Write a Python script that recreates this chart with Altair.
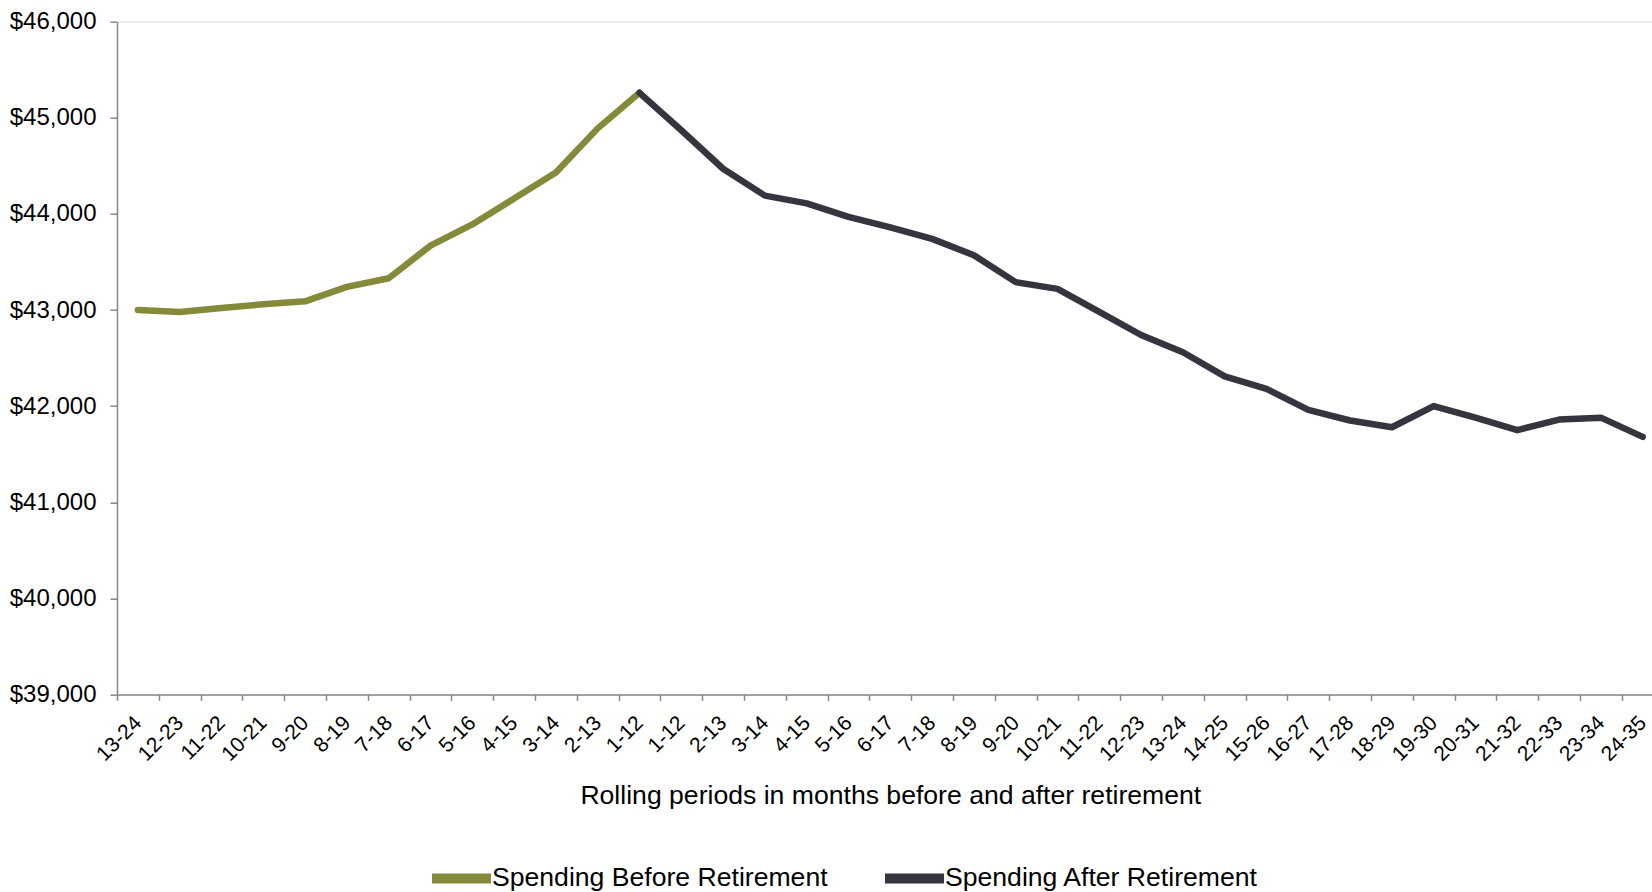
import altair as alt
import pandas as pd

BEFORE = "Spending Before Retirement"
AFTER = "Spending After Retirement"

before_labels = ["13-24", "12-23", "11-22", "10-21", "9-20", "8-19", "7-18",
                 "6-17", "5-16", "4-15", "3-14", "2-13", "1-12"]
before_values = [43000, 42980, 43020, 43060, 43090, 43240, 43330,
                 43670, 43890, 44160, 44430, 44890, 45260]

after_labels = ["1-12", "2-13", "3-14", "4-15", "5-16", "6-17", "7-18", "8-19",
                "9-20", "10-21", "11-22", "12-23", "13-24", "14-25", "15-26",
                "16-27", "17-28", "18-29", "19-30", "20-31", "21-32", "22-33",
                "23-34", "24-35"]
after_values = [44870, 44470, 44190, 44110, 43970, 43860, 43740, 43570,
                43290, 43220, 42980, 42740, 42560, 42310, 42180,
                41960, 41850, 41780, 42000, 41880, 41750, 41860,
                41880, 41680]

y_ticks = [39000, 40000, 41000, 42000, 43000, 44000, 45000, 46000]

x_labels = before_labels + after_labels
n = len(x_labels)

rows = []
for i, v in enumerate(before_values):
    rows.append({"idx": i, "value": v, "series": BEFORE})
# after series starts from the last "before" point
rows.append({"idx": len(before_values) - 1, "value": before_values[-1], "series": AFTER})
for j, v in enumerate(after_values):
    rows.append({"idx": len(before_values) + j, "value": v, "series": AFTER})
df = pd.DataFrame(rows)

label_expr = "[" + ",".join("'" + l + "'" for l in x_labels) + "][datum.value]"

FONT = "Liberation Sans"
band = 41.8
range_w = band * n
view_w = 1535
view_h = 672.7
pad_left = 117
pad_top = 21.7
pad_bottom = 892 - pad_top - view_h

chart = alt.Chart(df).mark_line(
    strokeWidth=6.5, strokeCap="round", strokeJoin="round"
).encode(
    x=alt.X(
        "idx:O",
        scale=alt.Scale(type="band", domain=list(range(n)), range=[0, range_w],
                        paddingInner=0, paddingOuter=0),
        axis=alt.Axis(
            labelExpr=label_expr, labelAngle=-45, labelAlign="right",
            labelBaseline="middle", labelFontSize=21, labelFont=FONT,
            labelColor="#000000", labelPadding=19, labelOverlap=False,
            labelBound=False, labelFlush=False,
            tickBand="extent", tickSize=6, tickColor="#888888", tickWidth=1.5,
            domainColor="#888888", domainWidth=1.5,
            title="Rolling periods in months before and after retirement",
            titleFont=FONT, titleFontSize=26.6, titleFontWeight="normal",
            titleColor="#000000", titleX=773.3, titleY=108.9,
            titleBaseline="alphabetic", titleAlign="center",
        ),
    ),
    y=alt.Y(
        "value:Q",
        scale=alt.Scale(domain=[39000, 46000], nice=False, zero=False),
        axis=alt.Axis(
            values=y_ticks, format="$,.0f", grid=False, title=None,
            labelFontSize=24, labelFont=FONT, labelColor="#000000",
            labelPadding=14, tickSize=7, tickColor="#888888", tickWidth=1.5,
            domainColor="#888888", domainWidth=1.5,
        ),
    ),
    color=alt.Color(
        "series:N",
        scale=alt.Scale(domain=[BEFORE, AFTER], range=["#848A3A", "#353540"]),
        legend=alt.Legend(
            orient="none", legendX=310, legendY=822, direction="horizontal",
            title=None, symbolType="stroke", symbolSize=3481,
            symbolStrokeWidth=10, symbolOpacity=1, labelFont=FONT,
            labelFontSize=26.6, labelColor="#000000", labelLimit=600,
            columnPadding=37, labelOffset={"expr": "-4"},
        ),
    ),
    order=alt.Order("idx:Q"),
).properties(
    width=view_w, height=view_h, autosize="none",
    padding={"left": pad_left, "top": pad_top, "right": 0, "bottom": pad_bottom},
).configure_view(stroke=None).configure(background="white")

chart.save("out.html", embed_options={"renderer": "svg", "actions": False})
